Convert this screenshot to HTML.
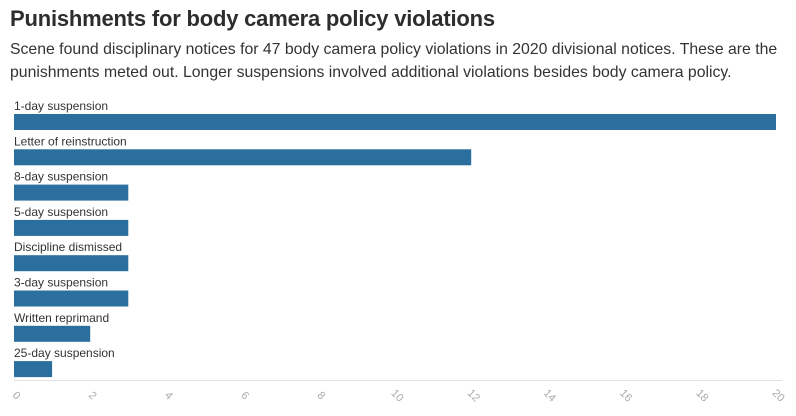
<!DOCTYPE html>
<html><head><meta charset="utf-8"><style>
body{margin:0;width:796px;height:416px;background:#fff;font-family:"Liberation Sans","DejaVu Sans",sans-serif;color:#333;overflow:hidden;position:relative}
#title{position:absolute;left:10px;top:6px;font-size:22px;font-weight:bold;color:#2d2d2d;margin:0;letter-spacing:-0.2px}
#sub{position:absolute;left:10px;top:38px;font-size:15.8px;line-height:23px;color:#333;white-space:nowrap;margin:0}
svg{position:absolute;left:0;top:0}
</style></head><body>
<h1 id="title">Punishments for body camera policy violations</h1>
<p id="sub">Scene found disciplinary notices for 47 body camera policy violations in 2020 divisional notices. These are the<br>punishments meted out. Longer suspensions involved additional violations besides body camera policy.</p>
<svg id="chart" width="796" height="416"></svg>
<script>
const categories=["1-day suspension","Letter of reinstruction","8-day suspension","5-day suspension","Discipline dismissed","3-day suspension","Written reprimand","25-day suspension"];
const values=[20,12,3,3,3,3,2,1];
const ticks=[0,2,4,6,8,10,12,14,16,18,20];
const NS="http://www.w3.org/2000/svg";
const svg=document.getElementById('chart');
const x0=14,x1=776,xmax=20;
function xs(v){return x0+(v/xmax)*(x1-x0);}
function yb(i){return 114+i*35.3;}
function mk(t,a){const e=document.createElementNS(NS,t);for(const k in a)e.setAttribute(k,a[k]);svg.appendChild(e);return e;}
categories.forEach((c,i)=>{
  const lab=mk('text',{x:x0,y:yb(i)-4,'font-size':'12','fill':'#333','font-family':'Liberation Sans, sans-serif'});
  lab.textContent=c;
  
  
  const r=mk('rect',{x:x0,y:yb(i),width:xs(values[i])-x0,height:16,fill:'#2a6f9e'});
  
  
});
const ax=mk('line',{x1:x0,x2:x1+6,y1:380.5,y2:380.5,stroke:'#e2e2e2','stroke-width':1});


ticks.forEach(t=>{
  const tx=mk('text',{x:0,y:0,'font-size':'11','fill':'#aaa','text-anchor':'middle',transform:`translate(${xs(t)},398) rotate(45)`});
  tx.textContent=t;
  
  
});
</script>
</body></html>
